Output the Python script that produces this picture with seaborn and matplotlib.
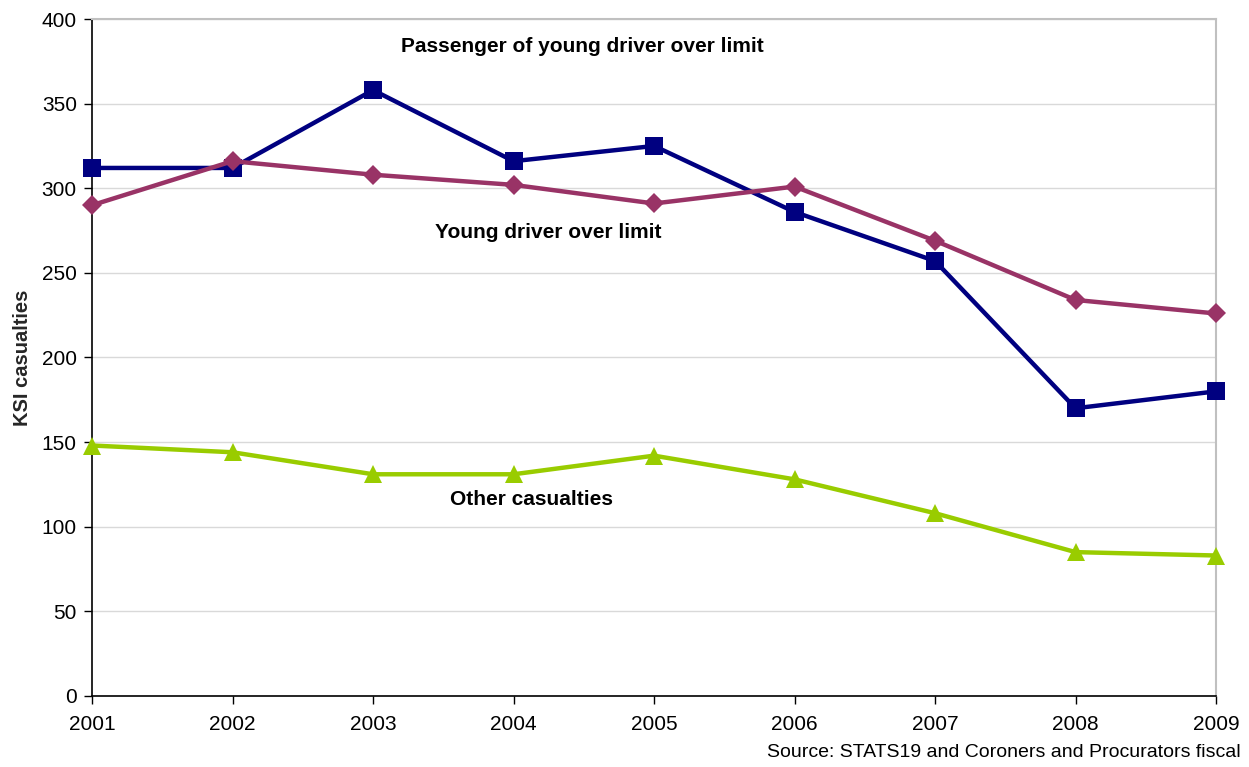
import matplotlib
matplotlib.use("Agg")
import matplotlib.pyplot as plt
import seaborn as sns
import pandas as pd

years = [2001, 2002, 2003, 2004, 2005, 2006, 2007, 2008, 2009]
passenger = [312, 312, 358, 316, 325, 286, 257, 170, 180]
young_driver = [290, 316, 308, 302, 291, 301, 269, 234, 226]
other = [148, 144, 131, 131, 142, 128, 108, 85, 83]

series_names = ["Passenger of young driver over limit",
                "Young driver over limit",
                "Other casualties"]
series_colors = ["#000080", "#993366", "#99CC00"]
series_markers = ["s", "D", "^"]
series_msize = [12.5, 10, 13]

sns.set_theme(style="white")
plt.rcParams["font.family"] = ["Liberation Sans", "DejaVu Sans"]

fig = plt.figure(figsize=(12.49, 7.67), dpi=100)
ax = fig.add_axes([0.0737, 0.0926, 0.8999, 0.8826])

for name, vals, col, mk, ms in zip(series_names, [passenger, young_driver, other],
                                   series_colors, series_markers, series_msize):
    df = pd.DataFrame({"year": years, "value": vals})
    sns.lineplot(data=df, x="year", y="value", ax=ax, color=col, linewidth=3.2,
                 marker=mk, markersize=ms, markeredgecolor=col,
                 markeredgewidth=0, zorder=3, clip_on=False)

ax.set_xlim(2001, 2009)
ax.set_ylim(0, 400)
ax.set_xticks(years)
ax.set_xticklabels([str(y) for y in years])
ax.set_yticks(range(0, 401, 50))
ax.grid(axis="y", color="#d9d9d9", linewidth=1)
ax.grid(axis="x", visible=False)
ax.set_axisbelow(True)

for s in ["top", "right"]:
    ax.spines[s].set_color("#c0c0c0")
    ax.spines[s].set_linewidth(1.5)
for s in ["left", "bottom"]:
    ax.spines[s].set_color("#000000")
    ax.spines[s].set_linewidth(1.2)

ax.tick_params(axis="both", direction="out", length=6, width=1, color="black",
               labelsize=15, labelcolor="black", pad=5, bottom=True, left=True)
ax.tick_params(axis="x", pad=8)

ax.set_xlabel("")
ax.set_ylabel("KSI casualties", fontsize=14.5, fontweight="bold", labelpad=7)

label_pos = [(2004.49, 384), (2004.25, 274), (2004.13, 116)]
for name, (lx, ly) in zip(series_names, label_pos):
    ax.text(lx, ly, name, ha="center", va="center", fontsize=15,
            fontweight="bold", color="black")

fig.text(0.993, 0.008, "Source: STATS19 and Coroners and Procurators fiscal",
         ha="right", va="bottom", fontsize=14, color="black")

fig.savefig("out.png", dpi=100, facecolor="white")
